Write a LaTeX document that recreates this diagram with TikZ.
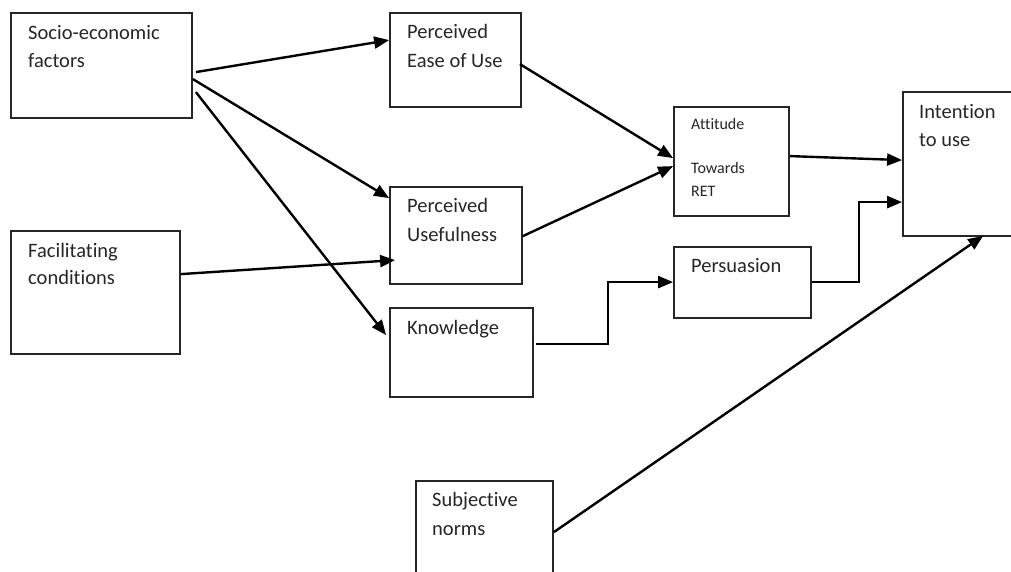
\documentclass[tikz,border=0pt]{standalone}
\usepackage{fontspec}
\setmainfont{Carlito}[Ligatures={NoCommon}]
\usetikzlibrary{arrows.meta,fit,calc}
\begin{document}
\begin{tikzpicture}[x=1pt,y=-1pt,
  box/.style={draw=black!85,line width=1.8pt,inner sep=0pt,fill=none},
  lbl/.style={anchor=mid west,inner sep=0pt,font=\fontsize{20.5}{24}\selectfont,text=black!85},
  slbl/.style={anchor=mid west,inner sep=0pt,font=\fontsize{16}{19}\selectfont,text=black!85},
  conn/.style={line width=2.4pt,-{Triangle[length=15pt,width=12pt]}},
  line join=miter]
\useasboundingbox (0,0) rectangle (1011,572);
% boxes
\node[box,fit={(11,13) (192,118)}] (se) {};
\node[box,fit={(11,231) (180,354)}] (fc) {};
\node[box,fit={(390,13) (521,107)}] (peu) {};
\node[box,fit={(390,187) (522,284)}] (pu) {};
\node[box,fit={(390,308) (533,397)}] (kn) {};
\node[box,fit={(674,107) (789,216)}] (att) {};
\node[box,fit={(674,247) (811,318)}] (per) {};
\node[box,fit={(903,92) (1030,236)}] (int) {};
\node[box,fit={(416,481) (553,590)}] (sn) {};
% texts
\node[lbl] (se1) at (28,37) {Socio-economic};
\node[lbl] (se2) at (28,65) {factors};
\node[lbl] (fc1) at (28,255) {Facilitating};
\node[lbl] (fc2) at (28,282) {conditions};
\node[lbl] (peu1) at (407,36) {Perceived};
\node[lbl] (peu2) at (407,65) {Ease of Use};
\node[lbl] (pu1) at (407,210) {Perceived};
\node[lbl] (pu2) at (407,239) {Usefulness};
\node[lbl] (kn1) at (407,332) {Knowledge};
\node[slbl] (att1) at (691,127) {Attitude};
\node[slbl] (att2) at (691,171) {Towards};
\node[slbl] (att3) at (691,194) {RET};
\node[lbl] (per1) at (691,270) {Persuasion};
\node[lbl] (int1) at (919,116) {Intention};
\node[lbl] (int2) at (919,144) {to use};
\node[lbl] (sn1) at (432,504) {Subjective};
\node[lbl] (sn2) at (432,533) {norms};
% connectors
\draw[conn] ($(se.north east)+(3,60)$) -- ($(peu.north west)+(0,28)$);
\draw[conn] ($(se.north east)+(0,67)$) -- ($(pu.north west)+(0,12)$);
\draw[conn] ($(se.north east)+(3,80)$) -- ($(kn.north west)+(-3,28)$);
\draw[conn] ($(fc.north east)+(0,44)$) -- ($(pu.north west)+(6,74)$);
\draw[conn] ($(peu.north east)+(-2,52)$) -- ($(att.north west)+(0,52)$);
\draw[conn] ($(pu.north east)+(0,50)$) -- ($(att.north west)+(0,60)$);
\draw[conn] ($(att.north east)+(0,50)$) -- ($(int.north west)+(0,69)$);
\draw[conn] ($(per.north east)+(0,36)$) -| ++(47,-80) -- ($(int.north west)+(0,111)$);
\draw[conn] ($(kn.north east)+(2,37)$) -| ++(72,-62) -- ($(per.north west)+(0,36)$);
\draw[conn] ($(sn.north east)+(0,52)$) -- ($(int.south west)+(81,-1)$);
\end{tikzpicture}
\end{document}
